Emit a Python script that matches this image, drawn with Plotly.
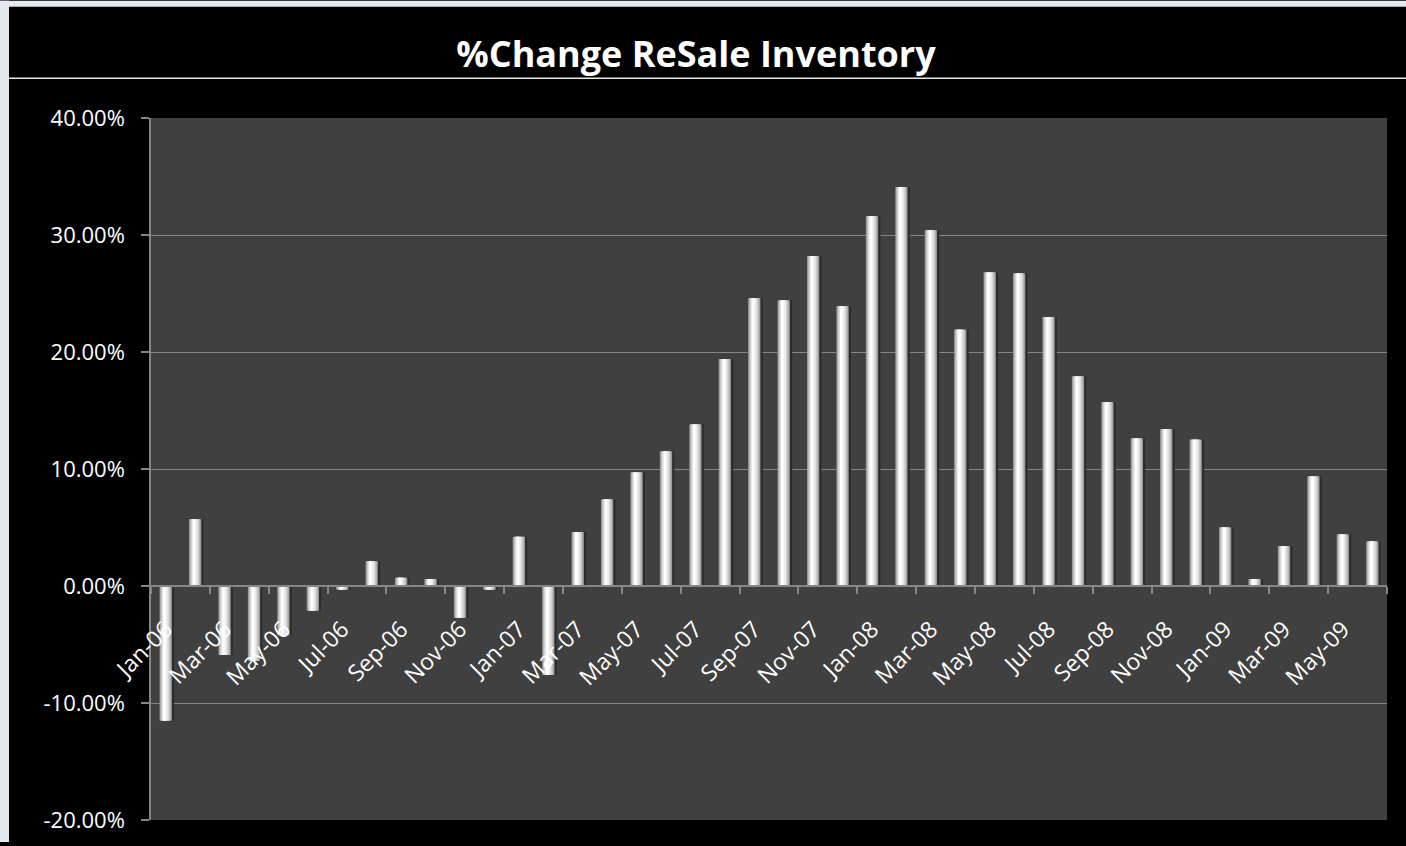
import plotly.graph_objects as go

# Monthly % change in resale inventory, Jan-06 .. Jun-09
months = [
    "Jan-06", "Feb-06", "Mar-06", "Apr-06", "May-06", "Jun-06",
    "Jul-06", "Aug-06", "Sep-06", "Oct-06", "Nov-06", "Dec-06",
    "Jan-07", "Feb-07", "Mar-07", "Apr-07", "May-07", "Jun-07",
    "Jul-07", "Aug-07", "Sep-07", "Oct-07", "Nov-07", "Dec-07",
    "Jan-08", "Feb-08", "Mar-08", "Apr-08", "May-08", "Jun-08",
    "Jul-08", "Aug-08", "Sep-08", "Oct-08", "Nov-08", "Dec-08",
    "Jan-09", "Feb-09", "Mar-09", "Apr-09", "May-09", "Jun-09",
]
pct_change = [
    -11.5, 5.7, -5.9, -6.4, -4.2, -2.1,
    -0.3, 2.1, 0.7, 0.6, -2.7, -0.3,
    4.2, -7.6, 4.6, 7.4, 9.7, 11.5,
    13.8, 19.4, 24.6, 24.4, 28.2, 23.9,
    31.6, 34.1, 30.4, 21.9, 26.8, 26.7,
    23.0, 17.9, 15.7, 12.6, 13.4, 12.5,
    5.0, 0.6, 3.4, 9.35, 4.4, 3.8,
]
y_ticks = [-20, -10, 0, 10, 20, 30, 40]
y_tick_text = [f"{v:.2f}%" for v in y_ticks]

W, H = 1406, 846
ML, MR, MT, MB = 151, 19, 118, 22
PW, PH = W - ML - MR, H - MT - MB


def px_x(px):
    return (px - ML) / PW


def px_y(py):
    return (H - MB - py) / PH


fig = go.Figure()

# cylinder-like shading: stacked overlays from wide/dark to narrow/light
layers = [
    (0.47, 0.05, "#2c2c2c"),
    (0.42, 0.00, "#8e8e8e"),
    (0.38, 0.00, "#a2a2a2"),
    (0.34, -0.003, "#b6b6b6"),
    (0.29, -0.008, "#c9c9c9"),
    (0.24, -0.012, "#d9d9d9"),
    (0.18, -0.018, "#e7e7e7"),
    (0.12, -0.024, "#f2f2f2"),
    (0.06, -0.03, "#fdfdfd"),
]
for w, shift, col in layers:
    fig.add_trace(go.Bar(
        x=months, y=pct_change, width=w, offset=-w / 2 + shift,
        marker=dict(color=col, line=dict(width=0)),
        showlegend=False, hoverinfo="skip",
    ))

gray = "#868686"
fig.update_layout(
    width=W, height=H, autosize=False,
    margin=dict(l=ML, r=MR, t=MT, b=MB, pad=0),
    paper_bgcolor="#000000", plot_bgcolor="#404040",
    barmode="overlay",
    font=dict(family="Open Sans", color="#ffffff"),
    title=dict(
        text="<b>%Change ReSale Inventory</b>",
        font=dict(family="Open Sans", size=36, color="#ffffff"),
        x=696 / W, xref="container", xanchor="center",
        y=1 - 54 / H, yref="container", yanchor="middle",
    ),
    xaxis=dict(
        type="category", categoryorder="array", categoryarray=months,
        range=[-0.5, len(months) - 0.5],
        anchor="free", position=20 / 60,
        tickmode="linear", tick0=0, dtick=2, tickson="boundaries",
        ticks="outside", ticklen=7, tickcolor=gray, tickwidth=1.5,
        tickangle=-45, tickfont=dict(size=23, color="#ffffff"),
        ticklabelstandoff=20,
        showline=True, linecolor=gray, linewidth=1.5,
        showgrid=False, zeroline=False,
    ),
    yaxis=dict(
        range=[-20, 40], tickmode="array",
        tickvals=y_ticks, ticktext=y_tick_text,
        tickfont=dict(size=22, color="#ffffff"),
        ticks="outside", ticklen=8, tickcolor=gray, tickwidth=1.5,
        ticklabelstandoff=12,
        showline=True, linecolor=gray, linewidth=1.5,
        showgrid=True, gridcolor=gray, gridwidth=1.4,
        zeroline=False,
    ),
    shapes=[
        # black panel right of the plot area, out to the page edge
        dict(type="rect", xref="paper", yref="paper",
             x0=1.0, x1=px_x(W + 6), y0=px_y(H + 4), y1=px_y(6),
             fillcolor="#000000", line=dict(width=0), layer="below"),
        # page strips around the black panel
        dict(type="rect", xref="paper", yref="paper",
             x0=px_x(0), x1=px_x(9), y0=px_y(H), y1=px_y(0),
             fillcolor="#e3e7ee", line=dict(width=0), layer="below"),
        dict(type="rect", xref="paper", yref="paper",
             x0=px_x(0), x1=px_x(W), y0=px_y(6), y1=px_y(0),
             fillcolor="#e3e7ee", line=dict(width=0), layer="below"),
        # rule under the title
        dict(type="line", xref="paper", yref="paper",
             x0=px_x(9), x1=px_x(W), y0=px_y(78), y1=px_y(78),
             line=dict(color="#e6e6e6", width=1.3)),
    ],
)

fig.write_html(
    "out.html",
    post_script=(
        "document.documentElement.style.overflow='hidden';"
        "document.body.style.overflow='hidden';"
        "document.body.style.margin='0';"
        "document.body.style.background='#000';"
    ),
)
